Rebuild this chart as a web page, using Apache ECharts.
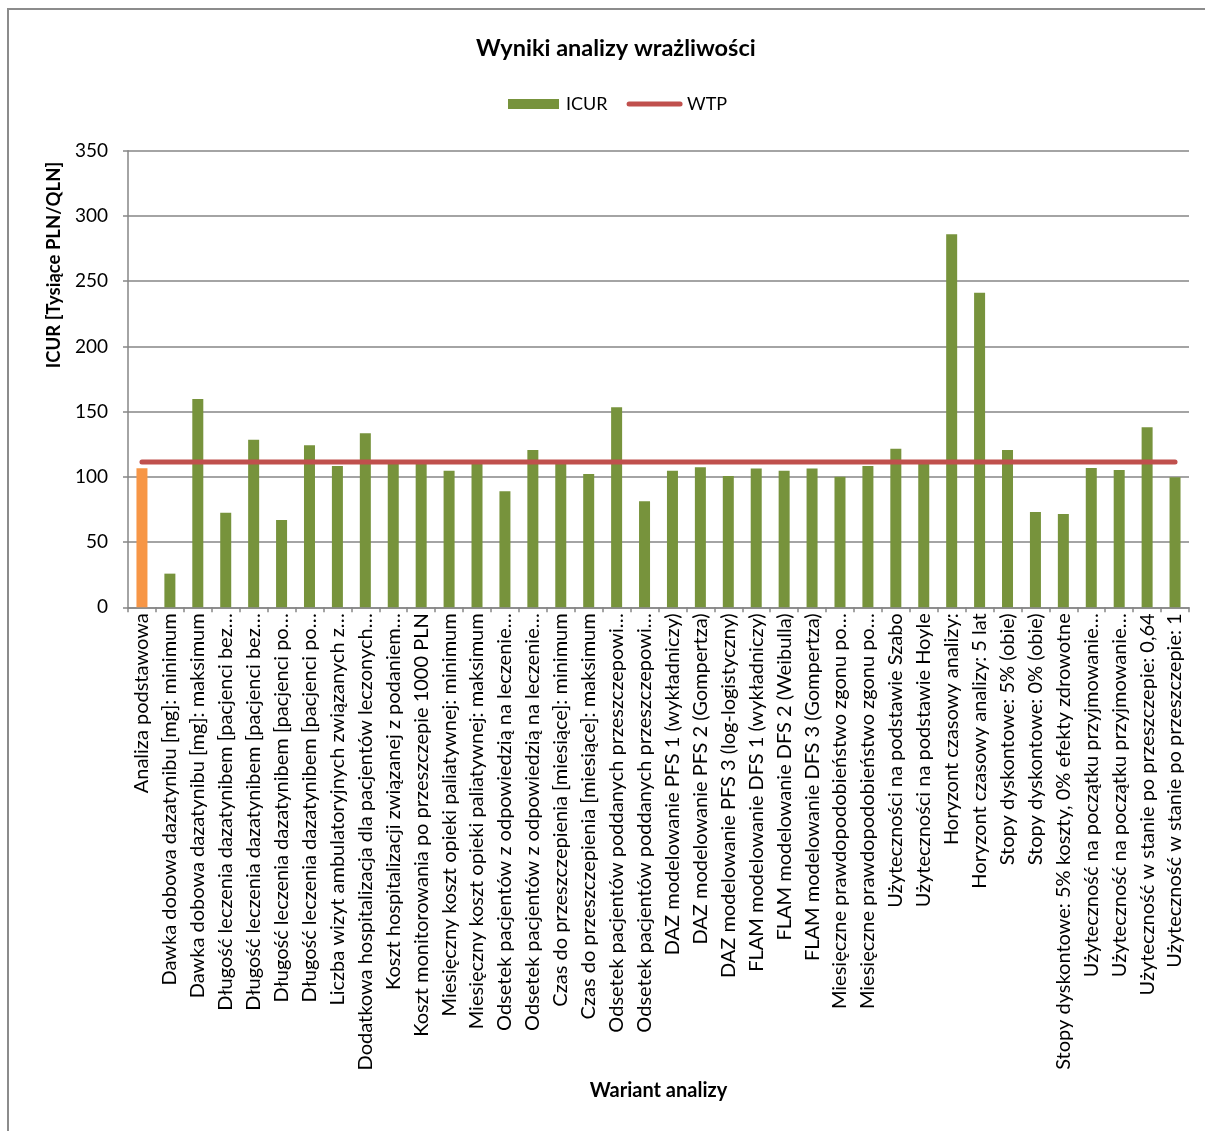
<!DOCTYPE html>
<html>
<head>
<meta charset="utf-8">
<script src="https://cdn.jsdelivr.net/npm/echarts@6/dist/echarts.min.js"></script>
<style>
  html, body { margin: 0; padding: 0; background: #ffffff; }
  #chart { width: 1205px; height: 1131px; }
</style>
</head>
<body>
<div id="chart"></div>
<script>
// Sensitivity-analysis variants (x-axis categories)
const categories = [
  'Analiza podstawowa',
  'Dawka dobowa dazatynibu [mg]: minimum',
  'Dawka dobowa dazatynibu [mg]: maksimum',
  'Długość leczenia dazatynibem [pacjenci bez…',
  'Długość leczenia dazatynibem [pacjenci bez…',
  'Długość leczenia dazatynibem [pacjenci po…',
  'Długość leczenia dazatynibem [pacjenci po…',
  'Liczba wizyt ambulatoryjnych związanych z…',
  'Dodatkowa hospitalizacja dla pacjentów leczonych…',
  'Koszt hospitalizacji związanej z podaniem…',
  'Koszt monitorowania po przeszczepie 1000 PLN',
  'Miesięczny koszt opieki paliatywnej: minimum',
  'Miesięczny koszt opieki paliatywnej: maksimum',
  'Odsetek pacjentów z odpowiedzią na leczenie…',
  'Odsetek pacjentów z odpowiedzią na leczenie…',
  'Czas do przeszczepienia [miesiące]: minimum',
  'Czas do przeszczepienia [miesiące]: maksimum',
  'Odsetek pacjentów poddanych przeszczepowi…',
  'Odsetek pacjentów poddanych przeszczepowi…',
  'DAZ modelowanie PFS 1 (wykładniczy)',
  'DAZ modelowanie PFS 2 (Gompertza)',
  'DAZ modelowanie PFS 3 (log-logistyczny)',
  'FLAM modelowanie DFS 1 (wykładniczy)',
  'FLAM modelowanie DFS 2 (Weibulla)',
  'FLAM modelowanie DFS 3 (Gompertza)',
  'Miesięczne prawdopodobieństwo zgonu po…',
  'Miesięczne prawdopodobieństwo zgonu po…',
  'Użyteczności na podstawie Szabo',
  'Użyteczności na podstawie Hoyle',
  'Horyzont czasowy analizy:',
  'Horyzont czasowy analizy: 5 lat',
  'Stopy dyskontowe: 5% (obie)',
  'Stopy dyskontowe: 0% (obie)',
  'Stopy dyskontowe: 5% koszty, 0% efekty zdrowotne',
  'Użyteczność na początku przyjmowanie…',
  'Użyteczność na początku przyjmowanie…',
  'Użyteczność w stanie po przeszczepie: 0,64',
  'Użyteczność w stanie po przeszczepie: 1'
];

// ICUR per variant [thousand PLN / QALY]
const icurValues = [
  106.5, 25.8, 159.7, 72.5, 128.5, 66.9, 124.2, 108.3, 133.4, 111.0,
  111.5, 104.7, 111.0, 88.9, 120.6, 110.8, 102.2, 153.3, 81.2, 104.7,
  107.3, 100.6, 106.3, 104.7, 106.3, 100.1, 108.3, 121.6, 110.5, 285.9,
  241.2, 120.6, 73.0, 71.5, 106.8, 105.2, 138.0, 99.6
];

// Willingness-to-pay threshold [thousand PLN / QALY]
const wtpThreshold = 111.381;

// Y-axis ticks
const yMin = 0;
const yMax = 350;
const yStep = 50;

const FONT = 'Lato, "Open Sans", sans-serif';
const GREEN = '#77933c';
const ORANGE = '#f79646';
const RED = '#c0504d';
const AXIS_GRAY = '#868686';

const barData = icurValues.map((v, i) =>
  i === 0 ? { value: v, itemStyle: { color: ORANGE } } : v
);
const wtpData = categories.map(() => wtpThreshold);

const chart = echarts.init(document.getElementById('chart'), null, { renderer: 'canvas' });

chart.setOption({
  backgroundColor: '#ffffff',
  animation: false,
  title: {
    text: 'Wyniki analizy wrażliwości',
    left: 471,
    top: 31,
    textStyle: { fontFamily: FONT, fontSize: 23.5, fontWeight: 'bold', color: '#000000' }
  },
  legend: {
    top: 90,
    left: 503,
    itemWidth: 51,
    itemHeight: 10,
    itemGap: 19,
    textStyle: { fontFamily: FONT, fontSize: 18, color: '#000000', padding: [0, 0, 0, 2] },
    data: [
      { name: 'ICUR', icon: 'rect' },
      {
        name: 'WTP',
        itemStyle: { opacity: 0 },
        lineStyle: { color: RED, width: 5, cap: 'round', opacity: 1 }
      }
    ]
  },
  grid: {
    left: 128,
    top: 150.7,
    right: 16,
    bottom: 523.7,
    containLabel: false
  },
  xAxis: {
    type: 'category',
    data: categories,
    boundaryGap: true,
    name: 'Wariant analizy',
    nameLocation: 'middle',
    nameGap: 473,
    nameTextStyle: { fontFamily: FONT, fontSize: 20, fontWeight: 'bold', color: '#000000' },
    axisLine: { lineStyle: { color: AXIS_GRAY, width: 1.5 } },
    axisTick: { show: true, length: 5, alignWithLabel: false, lineStyle: { color: AXIS_GRAY, width: 1.5 } },
    axisLabel: {
      interval: 0,
      rotate: 90,
      margin: 6,
      fontFamily: FONT,
      fontSize: 20,
      color: '#000000'
    },
    splitLine: { show: false }
  },
  yAxis: {
    type: 'value',
    min: yMin,
    max: yMax,
    interval: yStep,
    axisLine: { show: true, lineStyle: { color: AXIS_GRAY, width: 1.5 } },
    axisTick: { show: true, length: 5, lineStyle: { color: AXIS_GRAY, width: 1.5 } },
    axisLabel: { margin: 20, fontFamily: FONT, fontSize: 19, color: '#000000' },
    splitLine: { show: true, lineStyle: { color: AXIS_GRAY, width: 1.5 } }
  },
  series: [
    {
      name: 'ICUR',
      type: 'bar',
      data: barData,
      barWidth: 11,
      itemStyle: { color: GREEN },
      z: 2
    },
    {
      name: 'WTP',
      type: 'line',
      data: wtpData,
      symbol: 'none',
      lineStyle: { color: RED, width: 5, cap: 'round' },
      itemStyle: { color: RED },
      z: 3
    }
  ],
  graphic: [
    {
      // outer chart-area frame
      type: 'rect',
      shape: { x: 8, y: 9, width: 1400, height: 1400 },
      style: { fill: 'none', stroke: '#8c8c8c', lineWidth: 2 },
      silent: true
    },
    {
      type: 'text',
      x: 54,
      y: 265,
      rotation: Math.PI / 2,
      style: {
        text: 'ICUR [Tysiące PLN/QLN]',
        fontFamily: FONT,
        fontSize: 18.5,
        fontWeight: 'bold',
        fill: '#000000',
        align: 'center',
        verticalAlign: 'middle'
      },
      silent: true
    }
  ]
});
</script>
</body>
</html>
